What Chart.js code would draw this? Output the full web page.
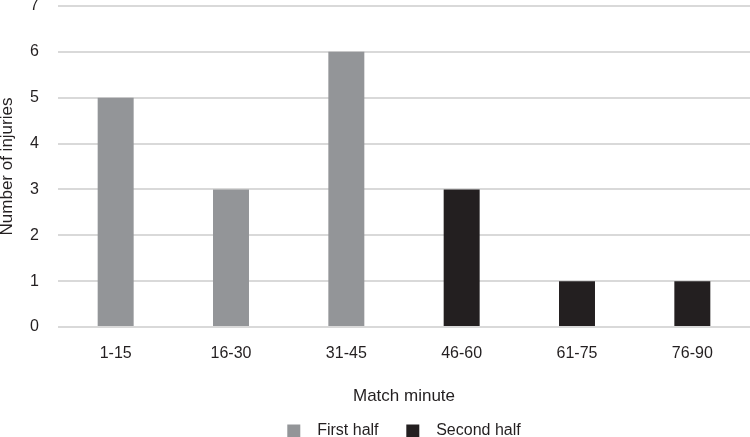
<!DOCTYPE html>
<html>
<head>
<meta charset="utf-8">
<script src="https://cdn.jsdelivr.net/npm/chart.js@4/dist/chart.umd.min.js"></script>
<style>
  html, body { margin: 0; padding: 0; background: #fff; }
  #wrap { width: 750px; height: 437px; position: relative; }
</style>
</head>
<body>
<div id="wrap"><canvas id="c"></canvas></div>
<script>
// Injuries by match minute, split into first/second half.
const minuteBands = ["1-15", "16-30", "31-45", "46-60", "61-75", "76-90"];
const firstHalf = [5, 3, 6, null, null, null];
const secondHalf = [null, null, null, 3, 1, 1];
const yTicks = [0, 1, 2, 3, 4, 5, 6, 7];
const seriesNames = ["First half", "Second half"];

const GREY = "#939598";
const BLACK = "#231f20";
const INK = "#231f20";
const FONT = "'Liberation Sans', Arial, sans-serif";

new Chart(document.getElementById("c"), {
  type: "bar",
  data: {
    labels: minuteBands,
    datasets: [
      { label: seriesNames[0], data: firstHalf, backgroundColor: GREY, barPercentage: 0.312, categoryPercentage: 1 },
      { label: seriesNames[1], data: secondHalf, backgroundColor: BLACK, barPercentage: 0.312, categoryPercentage: 1 },
    ],
  },
  options: {
    responsive: true,
    maintainAspectRatio: false,
    animation: false,
    // the legend sits partly below the bottom edge in the original
    layout: { padding: { top: 6, right: 0, left: 0, bottom: -12 } },
    plugins: {
      tooltip: { enabled: false },
      legend: {
        position: "bottom",
        fullSize: false,
        onClick: () => {},
        labels: {
          color: INK,
          font: { family: FONT, size: 16 },
          boxWidth: 13,
          boxHeight: 13,
          padding: 10,
          // extra spacing box→text and between the two items, as in the original
          generateLabels(chart) {
            return chart.data.datasets.map((ds, i) => ({
              text: "  " + ds.label + (i < chart.data.datasets.length - 1 ? "    " : ""),
              fillStyle: ds.backgroundColor,
              strokeStyle: ds.backgroundColor,
              lineWidth: 0,
              datasetIndex: i,
              fontColor: INK,
            }));
          },
        },
      },
    },
    scales: {
      x: {
        stacked: true,
        afterFit: (axis) => { axis.height = 86; },
        grid: { display: false },
        border: { display: false },
        ticks: { color: INK, font: { family: FONT, size: 16 }, padding: 9 },
        title: { display: true, text: "Match minute", color: INK, font: { family: FONT, size: 17 }, padding: { top: 0, bottom: 6 } },
      },
      y: {
        stacked: true,
        min: yTicks[0],
        max: yTicks[yTicks.length - 1],
        afterBuildTicks: (axis) => { axis.ticks = yTicks.map((v) => ({ value: v })); },
        afterFit: (axis) => { axis.width = 58; axis.paddingTop = 0; axis.paddingBottom = 0; },
        grid: { color: "#d9d9d9", lineWidth: 2, drawTicks: false },
        border: { display: false },
        ticks: { color: INK, font: { family: FONT, size: 16 }, padding: 19 },
        title: { display: true, text: "Number of injuries", color: INK, font: { family: FONT, size: 17 }, padding: { top: -3, bottom: 0 } },
      },
    },
  },
});
</script>
</body>
</html>
